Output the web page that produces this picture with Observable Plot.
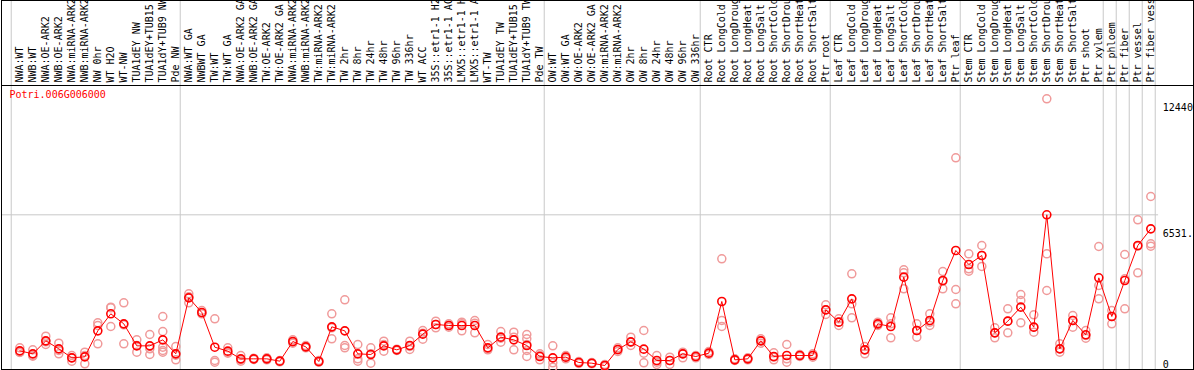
<!DOCTYPE html>
<html><head><meta charset="utf-8">
<script src="https://cdn.jsdelivr.net/npm/d3@7"></script>
<script src="https://cdn.jsdelivr.net/npm/@observablehq/plot@0.6"></script>
<style>html,body{margin:0;padding:0;overflow:hidden;background:#fff}</style>
</head><body><div id="chart"></div>
<script>
const geneId = "Potri.006G006000";

const categories = [
  "NWA:WT","NWB:WT","NWA:OE-ARK2","NWB:OE-ARK2","NWA:miRNA-ARK2","NWB:miRNA-ARK2","NW 0hr","WT H2O","WT-NW","TUA1dEY NW","TUA1dEY+TUB15 NW","TUA1dY+TUB9 NW","Pde NW",
  "NWA:WT GA","NWBWT GA","TW:WT","TW:WT GA","NWA:OE-ARK2 GA","NWB:OE-ARK2 GA","TW:OE-ARK2","TW:OE-ARK2 GA","NWA:miRNA-ARK2","NWB:miRNA-ARK2","TW:miRNA-ARK2","TW:miRNA-ARK2","TW 2hr","TW 8hr","TW 24hr","TW 48hr","TW 96hr","TW 336hr","WT ACC","35S::etr1-1 H2O","35S::etr1-1 ACC","LMX5::etr1-1 H2O","LMX5::etr1-1 ACC","WT-TW","TUA1dEY TW","TUA1dEY+TUB15 TW","TUA1dY+TUB9 TW","Pde TW",
  "OW:WT","OW:WT GA","OW:OE-ARK2","OW:OE-ARK2 GA","OW:miRNA-ARK2","OW:miRNA-ARK2","OW 2hr","OW 8hr","OW 24hr","OW 48hr","OW 96hr","OW 336hr",
  "Root CTR","Root LongCold","Root LongDrought","Root LongHeat","Root LongSalt","Root ShortCold","Root ShortDrought","Root ShortHeat","Root ShortSalt","Ptr root",
  "Leaf CTR","Leaf LongCold","Leaf LongDrought","Leaf LongHeat","Leaf LongSalt","Leaf ShortCold","Leaf ShortDrought","Leaf ShortHeat","Leaf ShortSalt","Ptr leaf",
  "Stem CTR","Stem LongCold","Stem LongDrought","Stem LongHeat","Stem LongSalt","Stem ShortCold","Stem ShortDrought","Stem ShortHeat","Stem ShortSalt","Ptr shoot","Ptr xylem",
  "Ptr phloem","Ptr fiber","Ptr vessel","Ptr fiber vessel"
];

const groupSizes = [13, 28, 12, 10, 10, 11, 1, 1, 1, 1];

const means = [
  826, 686, 1294, 920, 499, 546, 1761, 2557, 2089, 1060, 1060, 1340, 686,
  3305, 2619, 997, 811, 452, 452, 452, 343, 1262, 1013, 327, 1949, 1761, 686, 655, 1060, 873, 1075, 1606, 2058, 2011, 2011, 2011, 966, 1465, 1340, 1075, 561,
  499, 530, 281, 249, 140, 888, 1247, 904, 374, 374, 686, 561,
  717, 3134, 405, 452, 1294, 561, 608, 608, 608, 2744,
  2167, 3258, 873, 2089, 1964, 4272, 1777, 2245, 4116, 5519,
  4864, 5285, 1668, 2214, 2869, 1933, 7187, 920, 2245, 1575, 4241,
  2432, 4116, 5753, 6531.33
];

const replicates = [
  [966, 764, 748], [873, 608, 577], [1512, 1122, 1247], [1184, 686, 842], [608, 343, 499], [764, 218, 608],
  [2136, 2011, 1153], [2868, 2837, 1964], [3072, 2042, 1153], [1340, 764, 1075], [1590, 655, 920],
  [2432, 1730, 997, 842, 764], [1029, 405, 624],
  [3492, 3072, 3352], [2712, 2557, 2588], [2323, 374, 296], [966, 717, 748], [608, 343, 405], [483, 452, 421],
  [499, 452, 405], [374, 343, 312], [1340, 1231, 1184], [1075, 997, 966], [374, 296, 312], [2557, 1387, 1902],
  [3212, 1075, 966], [1122, 452, 343], [966, 249, 686], [1278, 1122, 811], [904, 873, 842], [1278, 1029, 888],
  [1777, 1652, 1372], [2214, 2058, 1902], [2089, 2011, 1933], [2167, 2089, 1761], [2245, 2120, 1668],
  [1122, 904, 873], [1730, 1418, 1231], [1699, 1465, 873], [1590, 1387, 1122, 842, 561], [686, 608, 405],
  [1060, 265, 62], [608, 530, 452], [327, 265, 234], [281, 249, 218], [187, 140, 94], [966, 873, 795],
  [1465, 1231, 1075], [1777, 717, 265], [608, 296, 187], [530, 374, 187], [764, 686, 499], [608, 561, 499],
  [795, 717, 655], [5131, 2245, 1964], [452, 405, 374], [499, 452, 405], [1387, 1309, 1184], [733, 530, 405],
  [1122, 452, 296], [655, 608, 561], [686, 608, 530], [2978, 2744, 2526],
  [2323, 2167, 2011], [4427, 3025, 2370], [1029, 873, 686], [2167, 2058, 2011], [2370, 2089, 1434],
  [4615, 4474, 3726], [2089, 1777, 1465], [2557, 2167, 2011], [4537, 4085, 3726], [9853, 3695, 3024],
  [5363, 4661, 4552], [5753, 5285, 4771], [1902, 1668, 1434], [2791, 2214, 1668], [3461, 3180, 2136],
  [2510, 1933, 1699], [12612, 5363, 3648], [1154, 920, 764], [2479, 2245, 1933], [1777, 1543, 1419],
  [5706, 3882, 3258], [2713, 2432, 2089], [5332, 4194, 2791], [6953, 5721, 4474], [8044, 5831, 5721]
];

const yTickValues = [0, 6531.33, 12440];
const yTickLabels = ["0", "6531.33", "12440"];

// ---- layout ----
const W = 1194, H = 370;
const n = categories.length;
const xRange = [19.3, 1150.3];
const yDomain = [0, 12440], yRange = [368, 102];
const headerBottomPx = 85;
const gridOffset = 0.66;
const grey = "#c8c8c8";
const font = "DejaVu Sans Mono";

const xs = d3.scaleLinear().domain([0, n - 1]).range(xRange);
const ys = d3.scaleLinear().domain(yDomain).range(yRange);
const yHeader = ys.invert(headerBottomPx);

const meanData = means.map((v, i) => ({i, v}));
const repData = replicates.flatMap((arr, i) => arr.map(v => ({i, v})));
const boundaries = d3.cumsum([0, ...groupSizes]).map(b => b - gridOffset);
const maxMean = d3.max(means);

const chart = Plot.plot({
  width: W, height: H,
  marginTop: 0, marginBottom: 1, marginLeft: 1, marginRight: 1,
  style: {fontFamily: font, fontSize: "10px", background: "#fff"},
  x: {domain: [0, n - 1], range: xRange, axis: null},
  y: {domain: yDomain, range: yRange, axis: null},
  marks: [
    Plot.ruleX(boundaries, {stroke: grey, strokeWidth: 1}),
    Plot.ruleY([maxMean], {x1: xs.invert(1), x2: n - 0.4, stroke: grey, strokeWidth: 1}),
    Plot.frame({stroke: "black"}),
    Plot.ruleY([yHeader], {stroke: "black", strokeWidth: 1}),
    Plot.dot(repData, {x: "i", y: "v", r: 4, stroke: "#f09a9a", strokeWidth: 1.5, fill: "none"}),
    Plot.line(meanData, {x: "i", y: "v", stroke: "#ff0000", strokeWidth: 1}),
    Plot.dot(meanData, {x: "i", y: "v", r: 4, stroke: "#ff0000", strokeWidth: 1.6, fill: "none"}),
    Plot.text(categories, {x: (d, i) => i, y: () => yHeader, text: d => d, rotate: -90, textAnchor: "start", dy: -3, fill: "black", fontSize: 10}),
    Plot.text([geneId], {x: () => xs.invert(9), y: () => yHeader, text: d => d, textAnchor: "start", lineAnchor: "top", dy: 5, fill: "#ff0000", fontSize: 10}),
    Plot.text(yTickValues.slice(1), {x: () => n, y: d => d, text: (d, i) => yTickLabels[i + 1], textAnchor: "start", lineAnchor: "top", dy: 1, dx: -1, fill: "black", fontSize: 10}),
    Plot.text(yTickValues.slice(0, 1), {x: () => n, y: d => d, text: (d, i) => yTickLabels[i], textAnchor: "start", lineAnchor: "bottom", dy: -1, dx: -1, fill: "black", fontSize: 10})
  ]
});
document.getElementById("chart").appendChild(chart);
</script>
</body></html>
